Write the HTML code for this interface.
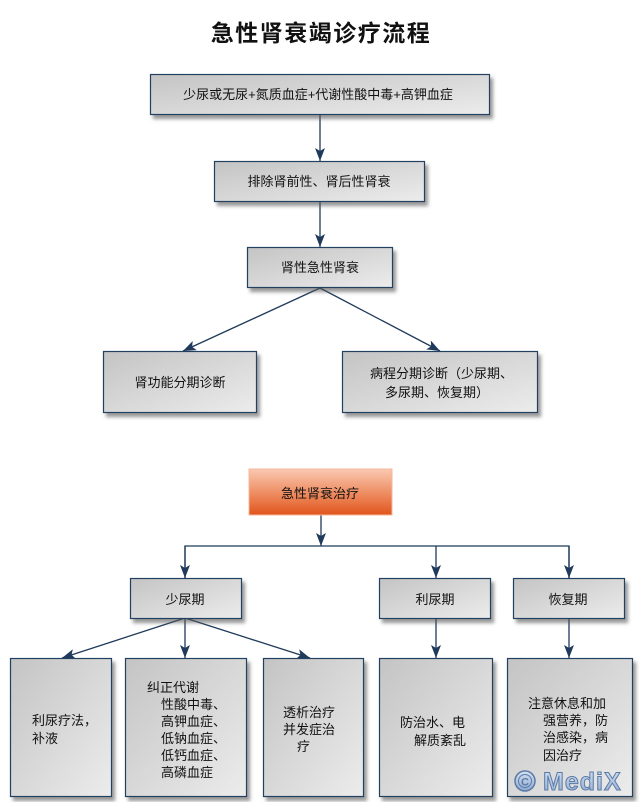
<!DOCTYPE html>
<html><head><meta charset="utf-8">
<style>
html,body{margin:0;padding:0;background:#fff;}
svg{display:block;}
text{font-family:"Liberation Sans","Noto Sans CJK SC",sans-serif;font-size:13px;fill:#111;}
</style></head>
<body>
<svg width="641" height="802" viewBox="0 0 641 802" xmlns="http://www.w3.org/2000/svg">
<defs>
<linearGradient id="g" x1="0" y1="0" x2="1" y2="1">
<stop offset="0" stop-color="#c4c4c4"/>
<stop offset="1" stop-color="#ececec"/>
</linearGradient>
<linearGradient id="o" x1="0" y1="0" x2="0" y2="1">
<stop offset="0" stop-color="#f9c9b2"/>
<stop offset="0.55" stop-color="#ee8a5e"/>
<stop offset="1" stop-color="#e0541c"/>
</linearGradient>
<filter id="sh" x="-10%" y="-10%" width="125%" height="130%">
<feDropShadow dx="3" dy="4" stdDeviation="1.8" flood-color="#555" flood-opacity="0.6"/>
</filter>
<marker id="a" markerUnits="userSpaceOnUse" markerWidth="13" markerHeight="10" refX="13" refY="5" orient="auto">
<path d="M0,0 L13,5 L0,10 L3,5 z" fill="#1f3a5a"/>
</marker>
<linearGradient id="wm" x1="0" y1="0" x2="0" y2="1">
<stop offset="0" stop-color="#d6e2f2"/>
<stop offset="1" stop-color="#8eaad0"/>
</linearGradient>
</defs>

<text x="321" y="41" text-anchor="middle" style="font-size:23px;font-weight:bold;letter-spacing:1.5px">急性肾衰竭诊疗流程</text>

<g stroke="#1f3a5a" stroke-width="1.3" fill="none">
<line x1="320" y1="114" x2="320" y2="161" marker-end="url(#a)"/>
<line x1="320" y1="201" x2="320" y2="247" marker-end="url(#a)"/>
<line x1="320" y1="288" x2="183" y2="351" marker-end="url(#a)"/>
<line x1="320" y1="288" x2="440" y2="351" marker-end="url(#a)"/>
<line x1="321" y1="515" x2="321" y2="546" marker-end="url(#a)"/>
<polyline points="185,578 185,546 569,546 569,578"/>
<line x1="185" y1="546" x2="185" y2="578" marker-end="url(#a)"/>
<line x1="569" y1="546" x2="569" y2="578" marker-end="url(#a)"/>
<line x1="436" y1="546" x2="436" y2="578" marker-end="url(#a)"/>
<line x1="185" y1="618" x2="62" y2="658" marker-end="url(#a)"/>
<line x1="185" y1="618" x2="185" y2="658" marker-end="url(#a)"/>
<line x1="185" y1="618" x2="310" y2="658" marker-end="url(#a)"/>
<line x1="436" y1="618" x2="436" y2="658" marker-end="url(#a)"/>
<line x1="569" y1="618" x2="569" y2="658" marker-end="url(#a)"/>
</g>

<g fill="url(#g)" stroke="#22405e" stroke-width="1.2" filter="url(#sh)">
<rect x="150.5" y="74.5" width="339" height="40"/>
<rect x="214.5" y="161.5" width="210" height="40"/>
<rect x="247.5" y="247.5" width="145" height="40"/>
<rect x="103.5" y="351.5" width="153" height="61"/>
<rect x="342.5" y="351.5" width="195" height="61"/>
<rect x="130.5" y="578.5" width="111" height="40"/>
<rect x="379.5" y="578.5" width="111" height="40"/>
<rect x="513.5" y="578.5" width="111" height="40"/>
<rect x="10.5" y="658.5" width="101" height="138"/>
<rect x="125.5" y="658.5" width="121" height="138"/>
<rect x="263.5" y="658.5" width="100" height="138"/>
<rect x="379.5" y="658.5" width="113" height="138"/>
<rect x="507.5" y="658.5" width="125" height="138"/>
</g>
<rect x="249" y="469" width="143" height="46" fill="url(#o)" stroke="#f4b89c" stroke-width="1"/>

<text x="318" y="99" text-anchor="middle">少尿或无尿+氮质血症+代谢性酸中毒+高钾血症</text>
<text x="319" y="186" text-anchor="middle">排除肾前性、肾后性肾衰</text>
<text x="320" y="272" text-anchor="middle">肾性急性肾衰</text>
<text x="180" y="387" text-anchor="middle">肾功能分期诊断</text>
<text x="370" y="378">病程分期诊断（少尿期、</text>
<text x="385" y="397">多尿期、恢复期）</text>
<text x="320" y="498" text-anchor="middle">急性肾衰治疗</text>
<text x="185" y="604" text-anchor="middle">少尿期</text>
<text x="435" y="604" text-anchor="middle">利尿期</text>
<text x="568" y="604" text-anchor="middle">恢复期</text>

<text x="32" y="725">利尿疗法，</text>
<text x="32" y="743">补液</text>

<text x="147" y="692">纠正代谢</text>
<text x="161" y="709">性酸中毒、</text>
<text x="161" y="726">高钾血症、</text>
<text x="161" y="743">低钠血症、</text>
<text x="161" y="760">低钙血症、</text>
<text x="161" y="777">高磷血症</text>

<text x="283" y="717">透析治疗</text>
<text x="283" y="734">并发症治</text>
<text x="297" y="751">疗</text>

<text x="400" y="727">防治水、电</text>
<text x="414" y="745">解质紊乱</text>

<text x="528" y="708">注意休息和加</text>
<text x="543" y="725">强营养，防</text>
<text x="543" y="742">治感染，病</text>
<text x="543" y="760">因治疗</text>

<g>
<circle cx="525" cy="781" r="10" fill="url(#wm)" stroke="#5b7aa6" stroke-width="1.5"/>
<circle cx="525" cy="781" r="6.5" fill="none" stroke="#5b7aa6" stroke-width="1"/>
<text x="525" y="785.5" text-anchor="middle" style="font-size:11px;font-weight:bold;fill:#5b7aa6">C</text>
<text x="543" y="790" style="font-size:25px;font-weight:bold;letter-spacing:1px;fill:url(#wm);stroke:#5b7aa6;stroke-width:1">MediX</text>
</g>
</svg>
</body></html>
